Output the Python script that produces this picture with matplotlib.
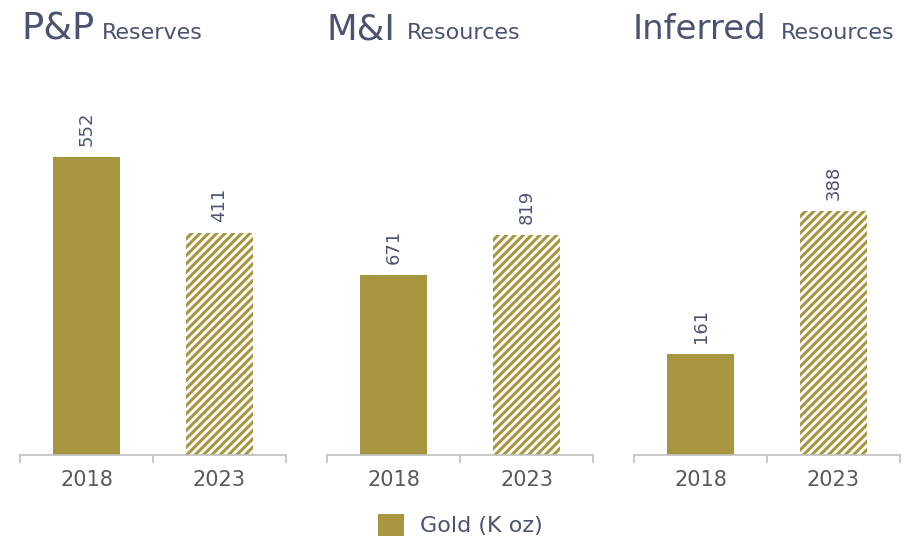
import matplotlib
matplotlib.use("Agg")
import matplotlib.pyplot as plt
from matplotlib.patches import Patch

panels_main = ["P&P", "M&I", "Inferred"]
panels_sub = ["Reserves", "Resources", "Resources"]
years = ["2018", "2023"]
values = [[552, 411], [671, 819], [161, 388]]
ymax = [732, 1470, 628]

GOLD = "#A8953F"
TITLE = "#4A5472"
TICK = "#595959"

plt.rcParams['hatch.linewidth'] = 2.2
plt.rcParams['font.family'] = ['DejaVu Sans']

fig = plt.figure(figsize=(9.17, 5.40), dpi=100)
lefts = [20, 327, 634]
for i in range(3):
    ax = fig.add_axes([lefts[i] / 917, 1 - 455 / 540, 266 / 917, 395 / 540])
    x = [0, 1]
    ax.bar(x[0], values[i][0], width=0.5, color=GOLD, edgecolor='none')
    ax.bar(x[1], values[i][1], width=0.5, color='white', edgecolor=GOLD,
           hatch='////', linewidth=0)
    for xi, v in zip(x, values[i]):
        ax.annotate(str(v), (xi, v), xytext=(0, 8), textcoords='offset points',
                    rotation=90, ha='center', va='bottom', fontsize=13, color=TITLE)
    ax.set_xlim(-0.5, 1.5)
    ax.set_ylim(0, ymax[i])
    ax.set_xticks(x)
    ax.set_xticklabels(years, fontsize=15, color=TICK)
    ax.tick_params(axis='x', which='major', length=0, pad=11)
    ax.set_xticks([-0.5, 0.5, 1.5], minor=True)
    ax.tick_params(axis='x', which='minor', length=6, color='#BFBFBF', width=1.2)
    ax.set_yticks([])
    for s in ['top', 'right', 'left']:
        ax.spines[s].set_visible(False)
    ax.spines['bottom'].set_color('#BFBFBF')
    ax.spines['bottom'].set_linewidth(1.2)

# titles
title_x = [21, 327, 633]
title_size = [26.5, 25.6, 24.5]
sub_x = [102, 407, 781]
for i in range(3):
    fig.text(title_x[i] / 917, 1 - 39 / 540, panels_main[i], fontsize=title_size[i],
             color=TITLE, ha='left', va='baseline')
    fig.text(sub_x[i] / 917, 1 - 39 / 540, panels_sub[i], fontsize=16,
             color=TITLE, ha='left', va='baseline')

fig.legend(handles=[Patch(facecolor=GOLD, edgecolor='none', label='Gold (K oz)')],
           loc='center', bbox_to_anchor=(460 / 917, 1 - 525 / 540), frameon=False,
           fontsize=16, labelcolor=TITLE, handlelength=1.2, handleheight=1.2,
           handletextpad=0.7, borderpad=0)

fig.savefig("out.png", dpi=100)
